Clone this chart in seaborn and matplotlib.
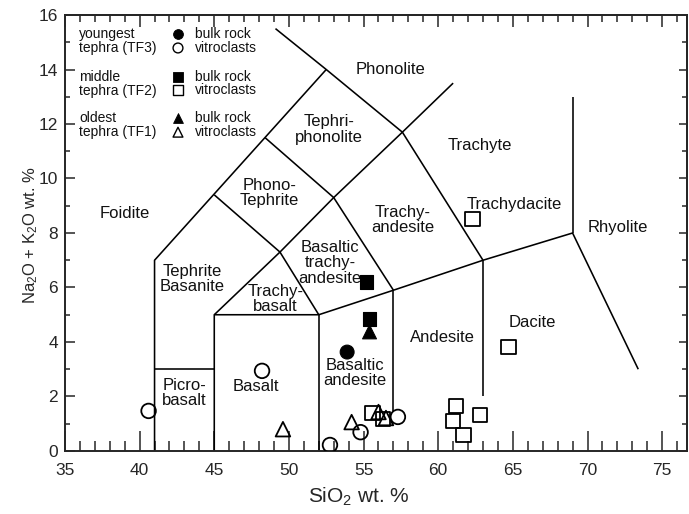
import matplotlib
matplotlib.use("Agg")
import matplotlib.pyplot as plt
import numpy as np
import pandas as pd
import seaborn as sns

# ---- analyses: SiO2 vs. total alkalis (wt. %) ----
tf3_bulk_sio2 = [53.9]
tf3_bulk_alk = [3.63]
tf3_vitro_sio2 = [40.6, 48.2, 52.75, 54.8, 57.3]
tf3_vitro_alk = [1.47, 2.94, 0.22, 0.69, 1.25]

tf2_bulk_sio2 = [55.2, 55.4]
tf2_bulk_alk = [6.2, 4.84]
tf2_vitro_sio2 = [62.3, 64.7, 61.2, 61.0, 62.8, 61.7, 55.6, 56.3]
tf2_vitro_alk = [8.51, 3.82, 1.65, 1.10, 1.32, 0.59, 1.39, 1.17]

tf1_bulk_sio2 = [55.4]
tf1_bulk_alk = [4.37]
tf1_vitro_sio2 = [49.6, 54.2, 56.0, 56.5]
tf1_vitro_alk = [0.8, 1.06, 1.43, 1.21]

# ---- TAS field boundaries (SiO2, Na2O+K2O) ----
tas_boundaries = [
    [(41, 0), (41, 7), (52.5, 14)],
    [(49.1, 15.5), (52.5, 14), (57.6, 11.7), (63, 7)],
    [(45, 9.4), (49.4, 7.3), (52, 5)],
    [(48.4, 11.5), (53, 9.3), (57, 5.9)],
    [(45, 5), (49.4, 7.3), (53, 9.3), (57.6, 11.7), (61, 13.5)],
    [(41, 3), (45, 3)],
    [(45, 0), (45, 5), (52, 5), (57, 5.9), (63, 7), (69, 8), (73.4, 3.0)],
    [(52, 0), (52, 5)],
    [(57, 1.45), (57, 5.9)],
    [(63, 2.0), (63, 7)],
    [(69, 8), (69, 13)],
]

field_names = ["Phonolite", "Tephri-\nphonolite", "Trachyte", "Foidite",
               "Phono-\nTephrite", "Trachy-\nandesite", "Trachydacite",
               "Rhyolite", "Tephrite\nBasanite", "Basaltic\ntrachy-\nandesite",
               "Trachy-\nbasalt", "Basalt", "Picro-\nbasalt",
               "Basaltic\nandesite", "Andesite", "Dacite"]
field_sio2 = [56.8, 52.7, 62.8, 39.0, 48.7, 57.6, 65.1, 72.0, 43.5, 52.75,
              49.1, 47.8, 43.0, 54.4, 60.3, 66.3]
field_alk = [14.0, 11.8, 11.2, 8.73, 9.47, 8.48, 9.03, 8.22, 6.3, 6.9,
             5.58, 2.35, 2.13, 2.86, 4.15, 4.7]

unit_labels = ["youngest\ntephra (TF3)", "middle\ntephra (TF2)", "oldest\ntephra (TF1)"]
unit_codes = ["TF3", "TF2", "TF1"]
unit_markers = {"TF3": "o", "TF2": "s", "TF1": "^"}
sample_types = ["bulk rock", "vitroclasts"]

# ---- assemble a tidy table ----
rows = []
for unit, bs, ba, vs, va in [
    ("TF3", tf3_bulk_sio2, tf3_bulk_alk, tf3_vitro_sio2, tf3_vitro_alk),
    ("TF2", tf2_bulk_sio2, tf2_bulk_alk, tf2_vitro_sio2, tf2_vitro_alk),
    ("TF1", tf1_bulk_sio2, tf1_bulk_alk, tf1_vitro_sio2, tf1_vitro_alk),
]:
    for s, a in zip(bs, ba):
        rows.append({"SiO2": s, "alk": a, "unit": unit, "type": "bulk rock"})
    for s, a in zip(vs, va):
        rows.append({"SiO2": s, "alk": a, "unit": unit, "type": "vitroclasts"})
df = pd.DataFrame(rows)

# ---- style ----
sns.set_style("ticks")
plt.rcParams["font.family"] = ["Liberation Sans", "DejaVu Sans"]
plt.rcParams["mathtext.fontset"] = "custom"
plt.rcParams["mathtext.rm"] = "Liberation Sans"
plt.rcParams["mathtext.it"] = "Liberation Sans"

fig, ax = plt.subplots(figsize=(6.89, 5.14), dpi=100)
fig.subplots_adjust(left=0.0943, right=0.997, bottom=0.1226, top=0.9708)

line_kw = dict(color="black", lw=1.15, solid_capstyle="butt", zorder=2)
for seg in tas_boundaries:
    xs, ys = zip(*seg)
    ax.plot(xs, ys, **line_kw)

for name, x, y in zip(field_names, field_sio2, field_alk):
    ax.text(x, y, name, ha="center", va="center", fontsize=12,
            linespacing=1.02, color="#111111", zorder=3)

bulk = df[df["type"] == "bulk rock"]
vitro = df[df["type"] == "vitroclasts"]
sns.scatterplot(data=bulk, x="SiO2", y="alk", style="unit", markers=unit_markers,
                style_order=unit_codes, color="black", edgecolor="black",
                s=100, linewidth=0.8, legend=False, ax=ax, zorder=4)
sns.scatterplot(data=vitro, x="SiO2", y="alk", style="unit", markers=unit_markers,
                style_order=unit_codes, facecolor="none", edgecolor="black",
                s=110, linewidth=1.3, legend=False, ax=ax, zorder=4)

# ---- key in the upper-left corner ----
key_rows = [(15.3, 14.79), (13.72, 13.25), (12.22, 11.7)]
for (y_b, y_v), lab, code in zip(key_rows, unit_labels, unit_codes):
    ax.text(35.94, (y_b + y_v) / 2, lab, ha="left", va="center", fontsize=10,
            linespacing=1.0, color="#111111")
    ax.scatter([42.57], [y_b], marker=unit_markers[code], s=50, color="black",
               edgecolor="black", linewidth=0.6, zorder=4)
    ax.scatter([42.57], [y_v], marker=unit_markers[code], s=50, facecolor="none",
               edgecolor="black", linewidth=1.0, zorder=4)
    ax.text(43.71, y_b, sample_types[0], ha="left", va="center", fontsize=10, color="#111111")
    ax.text(43.71, y_v, sample_types[1], ha="left", va="center", fontsize=10, color="#111111")

# ---- axes ----
ax.set_xlim(35, 76.66)
ax.set_ylim(0, 16)
ax.set_xticks(np.arange(35, 76, 5))
ax.set_xticks(np.arange(35, 77, 1), minor=True)
ax.set_yticks(np.arange(0, 17, 2))
ax.set_yticks(np.arange(0, 17, 1), minor=True)
ax.tick_params(axis="x", which="major", direction="in", length=14.5, width=1.1,
               labelsize=12.5, pad=9, top=False)
ax.tick_params(axis="x", which="minor", direction="in", length=7.2, width=1.1, top=False)
ax.tick_params(axis="y", which="major", direction="in", length=7, width=1.1,
               labelsize=12.5, pad=5, right=False)
ax.tick_params(axis="y", which="minor", direction="in", length=3.6, width=1.1, right=False)

sec_x = ax.secondary_xaxis("top")
sec_x.set_xticks(np.arange(35, 76, 5))
sec_x.set_xticks(np.arange(35, 77, 1), minor=True)
sec_x.tick_params(which="major", direction="in", length=8.6, width=1.1, labeltop=False)
sec_x.tick_params(which="minor", direction="in", length=5, width=1.1)
sec_y = ax.secondary_yaxis("right")
sec_y.set_yticks(np.arange(0, 17, 2))
sec_y.set_yticks(np.arange(0, 17, 1), minor=True)
sec_y.tick_params(which="major", direction="in", length=5.8, width=1.1, labelright=False)
sec_y.tick_params(which="minor", direction="in", length=3.6, width=1.1)
for sp in list(ax.spines.values()) + [sec_x.spines["top"], sec_y.spines["right"]]:
    sp.set_linewidth(1.4)
    sp.set_visible(True)

ax.set_xlabel(r"SiO$_2$ wt. %", fontsize=15, va="center")
ax.xaxis.set_label_coords(0.473, -0.105)
ax.set_ylabel(r"Na$_2$O + K$_2$O wt. %", fontsize=12, va="center")
ax.yaxis.set_label_coords(-0.055, 0.495)

fig.savefig("out.png", dpi=100)
